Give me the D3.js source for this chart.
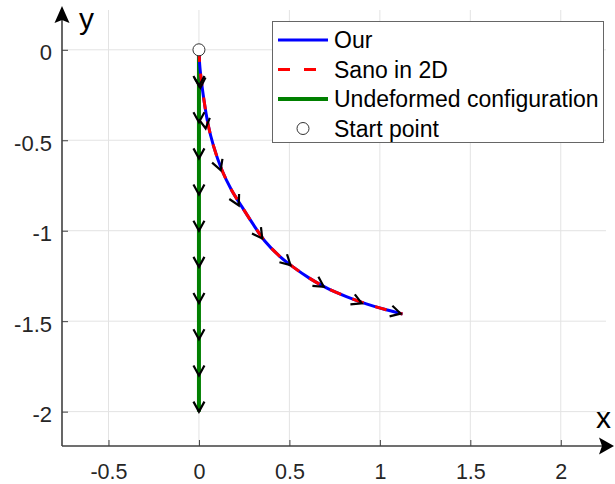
<!DOCTYPE html>
<html><head><meta charset="utf-8">
<script src="https://cdn.jsdelivr.net/npm/d3@7"></script>
<style>html,body{margin:0;padding:0;background:#fff;}svg{display:block;}</style>
</head><body>
<svg id="chart" width="615" height="484"></svg>
<script>
// ---- data ----
const xTicks = [-0.5, 0, 0.5, 1, 1.5, 2];
const yTicks = [0, -0.5, -1, -1.5, -2];
// Our / Sano in 2D deformed curve
const curveX = [0, 0.004, 0.012, 0.025, 0.05, 0.08, 0.125, 0.18, 0.237, 0.30, 0.365, 0.445, 0.52, 0.61, 0.705, 0.815, 0.925, 1.035, 1.125];
const curveY = [0, -0.08, -0.16, -0.26, -0.41, -0.53, -0.66, -0.775, -0.867, -0.965, -1.058, -1.14, -1.2, -1.262, -1.316, -1.364, -1.404, -1.437, -1.46];
// arrow positions along the deformed curve
const curveArrowX = [0.008, 0.037, 0.12, 0.22, 0.35, 0.506, 0.69, 0.90, 1.115];
const curveArrowY = [-0.21, -0.435, -0.665, -0.86, -1.043, -1.19, -1.31, -1.402, -1.458];
// undeformed configuration
const undefX = [0, 0];
const undefY = [0, -2];
const undefArrowX = [0, 0, 0, 0, 0, 0, 0, 0, 0, 0];
const undefArrowY = [-0.2, -0.4, -0.6, -0.8, -1.0, -1.2, -1.4, -1.6, -1.8, -2.0];
const startPoint = [0, 0];
const legendLabels = ["Our", "Sano in 2D", "Undeformed configuration", "Start point"];

// ---- setup ----
const font = "'Liberation Sans', Arial, Helvetica, sans-serif";
const svg = d3.select("#chart");
const x = d3.scaleLinear().domain([-0.757, 2.25]).range([62, 606]);
const y = d3.scaleLinear().domain([-2.19, 0.22]).range([446, 10]);

// grid
const grid = svg.append("g").attr("stroke", "#e3e3e3").attr("stroke-width", 1);
grid.selectAll(".vg").data(xTicks).join("line")
  .attr("x1", d => x(d)).attr("x2", d => x(d)).attr("y1", y.range()[1]).attr("y2", y.range()[0]);
grid.selectAll(".hg").data(yTicks).join("line")
  .attr("y1", d => y(d)).attr("y2", d => y(d)).attr("x1", x.range()[0]).attr("x2", x.range()[1]);

const line = d3.line().x(d => x(d[0])).y(d => y(d[1]));
const curvePts = curveX.map((v, i) => [v, curveY[i]]);
const undefPts = undefX.map((v, i) => [v, undefY[i]]);
const smooth = d3.line().x(d => x(d[0])).y(d => y(d[1])).curve(d3.curveCatmullRom.alpha(0.5));

// undeformed
svg.append("path").datum(undefPts).attr("d", line)
  .attr("fill", "none").attr("stroke", "#008000").attr("stroke-width", 4);
// Our
svg.append("path").datum(curvePts).attr("d", smooth)
  .attr("fill", "none").attr("stroke", "#0000ff").attr("stroke-width", 3);
// Sano
svg.append("path").datum(curvePts).attr("d", smooth)
  .attr("fill", "none").attr("stroke", "#ff0000").attr("stroke-width", 3)
  .attr("stroke-dasharray", "12,12");

// chevron arrows
function chevrons(xs, ys, prevStart) {
  const pts = xs.map((v, i) => [x(v), y(ys[i])]);
  let prev = [x(prevStart[0]), y(prevStart[1])];
  const out = [];
  pts.forEach(p => {
    let dx = p[0] - prev[0], dy = p[1] - prev[1];
    const len = Math.hypot(dx, dy) || 1;
    dx /= len; dy /= len;
    const L = 10, W = 5.5;
    const bx = p[0] - L * dx, by = p[1] - L * dy;
    const a = [bx - W * dy, by + W * dx], b = [bx + W * dy, by - W * dx];
    out.push(`M${a[0]},${a[1]}L${p[0]},${p[1]}L${b[0]},${b[1]}`);
    prev = p;
  });
  return out;
}
const ag = svg.append("g").attr("fill", "none").attr("stroke", "#000").attr("stroke-width", 2.2)
  .attr("stroke-linejoin", "miter");
ag.selectAll(".ua").data(chevrons(undefArrowX, undefArrowY, startPoint)).join("path").attr("d", d => d);
ag.selectAll(".ca").data(chevrons(curveArrowX, curveArrowY, startPoint)).join("path").attr("d", d => d);

// start point
svg.append("circle").attr("cx", x(startPoint[0])).attr("cy", y(startPoint[1])).attr("r", 6)
  .attr("fill", "#fff").attr("stroke", "#333").attr("stroke-width", 1);

// axes
const axCol = "#404040";
const yAxis = svg.append("g").attr("transform", `translate(${x.range()[0]},0)`)
  .call(d3.axisLeft(y).tickValues(yTicks).tickFormat(d => String(d)).tickSizeInner(-6).tickSizeOuter(0).tickPadding(10));
yAxis.select(".domain").remove();
yAxis.selectAll("line").attr("stroke", axCol);
yAxis.selectAll("text").attr("font-family", font).attr("font-size", 22).attr("fill", "#262626").attr("dy", "0.45em");

const xAxis = svg.append("g").attr("transform", `translate(0,${y.range()[0]})`)
  .call(d3.axisBottom(x).tickValues(xTicks).tickFormat(d => String(d)).tickSizeInner(-6).tickSizeOuter(0).tickPadding(18));
xAxis.select(".domain").remove();
xAxis.selectAll("line").attr("stroke", axCol);
xAxis.selectAll("text").attr("font-family", font).attr("font-size", 21.5).attr("fill", "#262626");

// axis lines with arrows
const x0 = x.range()[0], yb = y.range()[0];
svg.append("line").attr("x1", x0).attr("x2", x0).attr("y1", yb).attr("y2", 16)
  .attr("stroke", axCol).attr("stroke-width", 1.6);
svg.append("line").attr("x1", x0).attr("x2", 605).attr("y1", yb).attr("y2", yb)
  .attr("stroke", axCol).attr("stroke-width", 1.6);
svg.append("path").attr("d", `M${x0},6L${x0 + 7.5},23L${x0},20L${x0 - 7.5},23Z`).attr("fill", "#000");
svg.append("path").attr("d", `M614,${yb}L599,${yb - 8.5}L602,${yb}L599,${yb + 8.5}Z`).attr("fill", "#000");
svg.append("text").attr("x", 79).attr("y", 29).attr("font-family", font).attr("font-size", 30).attr("fill", "#000").text("y");
svg.append("text").attr("x", 596).attr("y", 428).attr("font-family", font).attr("font-size", 30).attr("fill", "#000").text("x");

// legend
const lg = svg.append("g");
lg.append("rect").attr("x", 272.5).attr("y", 21.5).attr("width", 331).attr("height", 121)
  .attr("fill", "#fff").attr("stroke", "#666").attr("stroke-width", 1);
const rowsY = [40, 69.5, 99, 128.5];
const styles = [
  {c: "#0000ff", w: 3, dash: null},
  {c: "#ff0000", w: 3, dash: "12,14"},
  {c: "#008000", w: 4, dash: null},
  null
];
legendLabels.forEach((lab, i) => {
  const s = styles[i];
  if (s) {
    lg.append("line").attr("x1", 278).attr("x2", 328).attr("y1", rowsY[i]).attr("y2", rowsY[i])
      .attr("stroke", s.c).attr("stroke-width", s.w).attr("stroke-dasharray", s.dash);
  } else {
    lg.append("circle").attr("cx", 303).attr("cy", rowsY[i]).attr("r", 6)
      .attr("fill", "#fff").attr("stroke", "#333").attr("stroke-width", 1);
  }
  lg.append("text").attr("x", 334).attr("y", rowsY[i]).attr("dy", "0.36em")
    .attr("font-family", font).attr("font-size", 23).attr("fill", "#000").text(lab);
});
</script>
</body></html>
